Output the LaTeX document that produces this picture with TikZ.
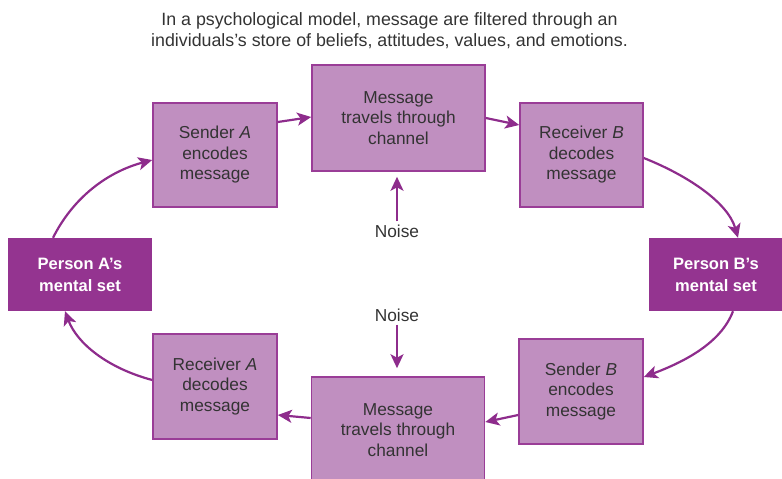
\documentclass[tikz,border=0pt]{standalone}
\usepackage{fontspec}
\setmainfont{Liberation Sans}
\usetikzlibrary{arrows.meta}
\definecolor{boxfill}{HTML}{C08FC0}
\definecolor{boxline}{HTML}{9A3D97}
\definecolor{mindfill}{HTML}{943490}
\definecolor{flow}{HTML}{8E2C8C}
\definecolor{ink}{HTML}{333333}
\tikzset{
  stagebox/.style={draw=boxline, line width=1.6pt, fill=boxfill, text=ink,
    align=center, inner sep=0pt, font=\fontsize{17.3}{20.5}\selectfont},
  mindbox/.style={fill=mindfill, text=white, align=center, inner sep=0pt,
    font=\bfseries\fontsize{16.5}{22}\selectfont},
  flowarrow/.style={draw=flow, line width=2.2pt,
    -{Stealth[length=14pt, width=13pt, inset=3.5pt]}},
  noiselabel/.style={text=ink, inner sep=1pt, font=\fontsize{17.3}{20}\selectfont}
}
\begin{document}
\begin{tikzpicture}[x=1pt, y=-1pt]
\useasboundingbox (0,0) rectangle (782,479);
\clip (0,0) rectangle (782,479);

% caption
\node[text=ink, align=center, font=\fontsize{17.8}{21}\selectfont] (title) at (389.5,31)
  {In a psychological model, message are filtered through an\\
   individuals's store of beliefs, attitudes, values, and emotions.};

% stages of the exchange
\node[stagebox, minimum width=124pt, minimum height=104pt] (sa) at (215,155)
  {Sender \textit{A}\\encodes\\message};
\node[stagebox, minimum width=173pt, minimum height=106pt] (mt) at (398.5,118)
  {Message\\travels through\\channel};
\node[stagebox, minimum width=123pt, minimum height=104pt] (rb) at (581.5,155)
  {Receiver \textit{B}\\decodes\\message};
\node[stagebox, minimum width=124pt, minimum height=105pt] (sb) at (581,391.5)
  {Sender \textit{B}\\encodes\\message};
\node[stagebox, minimum width=173pt, minimum height=106pt] (mb) at (398,430)
  {Message\\travels through\\channel};
\node[stagebox, minimum width=124pt, minimum height=105pt] (ra) at (215,386.5)
  {Receiver \textit{A}\\decodes\\message};

% mental sets
\node[mindbox, minimum width=144pt, minimum height=73pt] (pa) at (80,274.5)
  {Person A’s\\mental set};
\node[mindbox, minimum width=134pt, minimum height=73pt] (pb) at (716,274.5)
  {Person B’s\\mental set};

% noise
\node[noiselabel] (nt) at (397,231) {Noise};
\node[noiselabel] (nb) at (397,315) {Noise};

% connectors
\draw[flowarrow] ([xshift=-27pt]pa.north) .. controls +(20,-40) and +(-45,12) .. ([yshift=-5pt]sa.west);
\draw[flowarrow] ([yshift=33pt]sa.east) -- ([yshift=1pt]mt.west);
\draw[flowarrow] ([yshift=0pt]mt.east) -- ([yshift=30pt]rb.west);
\draw[flowarrow] ([yshift=-3pt]rb.east) .. controls +(45,18) and +(-10,-35) .. ([xshift=22pt]pb.north);
\draw[flowarrow] ([xshift=17pt]pb.south) .. controls +(-12,32) and +(40,-15) .. ([yshift=14.5pt]sb.east);
\draw[flowarrow] ([yshift=-23.5pt]sb.west) -- ([yshift=8pt]mb.east);
\draw[flowarrow] ([yshift=12pt]mb.west) -- ([yshift=-28.5pt]ra.east);
\draw[flowarrow] ([yshift=6.5pt]ra.west) .. controls +(-45,-12) and +(12,32) .. ([xshift=-15pt]pa.south);
\draw[flowarrow, shorten <=2pt, shorten >=5pt] (nt.north) -- (nt.north |- mt.south);
\draw[flowarrow, shorten <=2pt, shorten >=8pt] (nb.south) -- (nb.south |- mb.north);
\end{tikzpicture}
\end{document}
